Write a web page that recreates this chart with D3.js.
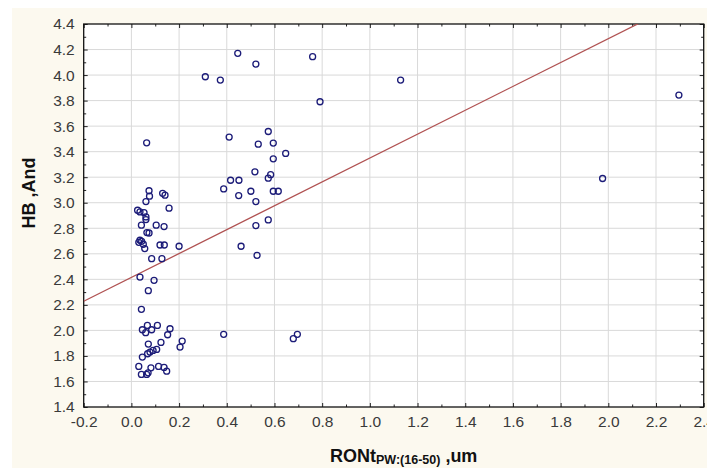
<!DOCTYPE html>
<html>
<head>
<meta charset="utf-8">
<script src="https://cdn.jsdelivr.net/npm/d3@7"></script>
<style>
  body { margin: 0; background: #fff; }
  svg { display: block; }
</style>
</head>
<body>
<script>
// RONt (x) and HB,And (y)
var xVals = [0.064, 0.074, 0.076, 0.061, 0.131, 0.141, 0.158, 0.026, 0.036, 0.053,
             0.061, 0.061, 0.042, 0.104, 0.137, 0.065, 0.074, 0.036, 0.043, 0.031,
             0.050, 0.056, 0.120, 0.138, 0.200, 0.085, 0.128, 0.036, 0.095, 0.071,
             0.042, 0.046, 0.067, 0.060, 0.085, 0.109, 0.162, 0.152, 0.071, 0.124,
             0.106, 0.078, 0.068, 0.046, 0.213, 0.204, 0.031, 0.082, 0.114, 0.137,
             0.148, 0.042, 0.064, 0.070, 0.091,
             0.310, 0.373, 0.446, 0.522, 0.410, 0.574, 0.532, 0.595, 0.647, 0.595,
             0.518, 0.584, 0.574, 0.416, 0.451, 0.387, 0.450, 0.501, 0.522, 0.595,
             0.616, 0.574, 0.522, 0.460, 0.527, 0.387, 0.679, 0.696, 0.760, 0.791,
             1.129, 1.976, 2.296]
var yVals = [3.469, 3.094, 3.051, 3.009, 3.074, 3.059, 2.957, 2.941, 2.928, 2.923,
             2.889, 2.868, 2.824, 2.824, 2.813, 2.766, 2.763, 2.706, 2.698, 2.690,
             2.675, 2.641, 2.669, 2.669, 2.659, 2.562, 2.562, 2.418, 2.392, 2.311,
             2.165, 2.005, 2.039, 1.982, 2.005, 2.039, 2.013, 1.966, 1.893, 1.906,
             1.851, 1.830, 1.817, 1.791, 1.916, 1.869, 1.718, 1.707, 1.718, 1.710,
             1.681, 1.655, 1.655, 1.668, 1.843,
             3.987, 3.961, 4.170, 4.086, 3.514, 3.558, 3.459, 3.467, 3.386, 3.344,
             3.242, 3.220, 3.192, 3.176, 3.176, 3.108, 3.056, 3.090, 3.009, 3.090,
             3.090, 2.865, 2.821, 2.659, 2.588, 1.969, 1.935, 1.969, 4.144, 3.791,
             3.961, 3.190, 3.843]

var xTicks = [-0.2, 0.0, 0.2, 0.4, 0.6, 0.8, 1.0, 1.2, 1.4, 1.6, 1.8, 2.0, 2.2, 2.4]
var yTicks = [1.4, 1.6, 1.8, 2.0, 2.2, 2.4, 2.6, 2.8, 3.0, 3.2, 3.4, 3.6, 3.8, 4.0, 4.2, 4.4]

// linear fit
var fitIntercept = 2.415
var fitSlope = 0.935

var W = 707, H = 468
var pLeft = 83.7, pRight = 703.7, pTop = 24, pBottom = 407

var svg = d3.select("body").append("svg")
    .attr("width", W)
    .attr("height", H)

svg.append("rect")
    .attr("x", 12).attr("y", 8)
    .attr("width", W - 12).attr("height", H - 8)
    .attr("fill", "#fcf9ef")

svg.append("rect")
    .attr("x", pLeft).attr("y", pTop)
    .attr("width", pRight - pLeft).attr("height", pBottom - pTop)
    .attr("fill", "#fff")

var x = d3.scaleLinear().domain([-0.2, 2.4]).range([pLeft, pRight])
var y = d3.scaleLinear().domain([1.4, 4.4]).range([pBottom, pTop])

var fmt = function(d) { return d3.format(".1f")(d).replace("\u2212", "-") }

// grid
svg.append("g").selectAll("line")
    .data(xTicks.slice(1, -1))
    .enter().append("line")
    .attr("x1", function(d) { return x(d) }).attr("x2", function(d) { return x(d) })
    .attr("y1", pTop).attr("y2", pBottom)
    .attr("stroke", "#d9d9d9")
svg.append("g").selectAll("line")
    .data(yTicks.slice(1, -1))
    .enter().append("line")
    .attr("y1", function(d) { return y(d) }).attr("y2", function(d) { return y(d) })
    .attr("x1", pLeft).attr("x2", pRight)
    .attr("stroke", "#d9d9d9")

// inward ticks on all sides
var minorX = xTicks.slice(0, -1).map(function(d) { return d + 0.1 })
var minorY = yTicks.slice(0, -1).map(function(d) { return d + 0.1 })

function tickAxis(axis, pos, ticks, size) {
    svg.append("g")
        .attr("transform", pos)
        .call(axis.tickValues(ticks).tickSize(size).tickFormat(""))
        .call(function(g) { g.select(".domain").remove() })
        .selectAll("line").attr("stroke", "#222")
}
tickAxis(d3.axisTop(x), "translate(0," + pBottom + ")", xTicks, 4)
tickAxis(d3.axisTop(x), "translate(0," + pBottom + ")", minorX, 2.5)
tickAxis(d3.axisBottom(x), "translate(0," + pTop + ")", xTicks, 4)
tickAxis(d3.axisBottom(x), "translate(0," + pTop + ")", minorX, 2.5)
tickAxis(d3.axisRight(y), "translate(" + pLeft + ",0)", yTicks, 4)
tickAxis(d3.axisRight(y), "translate(" + pLeft + ",0)", minorY, 2.5)
tickAxis(d3.axisLeft(y), "translate(" + pRight + ",0)", yTicks, 4)
tickAxis(d3.axisLeft(y), "translate(" + pRight + ",0)", minorY, 2.5)

// tick labels
svg.append("g")
    .attr("transform", "translate(0," + pBottom + ")")
    .call(d3.axisBottom(x).tickValues(xTicks).tickSize(0).tickPadding(9).tickFormat(fmt))
    .call(function(g) { g.select(".domain").remove() })
    .selectAll("text")
    .attr("font-family", "'Liberation Sans', Arial, sans-serif")
    .attr("font-size", 15.5)
    .attr("fill", "#3a3a3a")

svg.append("g")
    .attr("transform", "translate(" + pLeft + ",0)")
    .call(d3.axisLeft(y).tickValues(yTicks).tickSize(0).tickPadding(9).tickFormat(fmt))
    .call(function(g) { g.select(".domain").remove() })
    .selectAll("text")
    .attr("font-family", "'Liberation Sans', Arial, sans-serif")
    .attr("font-size", 15.5)
    .attr("fill", "#3a3a3a")

// frame
svg.append("rect")
    .attr("x", pLeft).attr("y", pTop)
    .attr("width", pRight - pLeft).attr("height", pBottom - pTop)
    .attr("fill", "none")
    .attr("stroke", "#111")
    .attr("stroke-width", 1.3)

// fit line, clipped to plot
svg.append("clipPath").attr("id", "plotclip")
    .append("rect")
    .attr("x", pLeft).attr("y", pTop)
    .attr("width", pRight - pLeft).attr("height", pBottom - pTop)

var fitXs = [-0.2, 2.4]
svg.append("path")
    .datum(fitXs)
    .attr("clip-path", "url(#plotclip)")
    .attr("d", d3.line()
        .x(function(d) { return x(d) })
        .y(function(d) { return y(fitIntercept + fitSlope * d) }))
    .attr("fill", "none")
    .attr("stroke", "#b05252")
    .attr("stroke-width", 1.3)

// points
svg.append("g").selectAll("circle")
    .data(xVals)
    .enter().append("circle")
    .attr("cx", function(d) { return x(d) })
    .attr("cy", function(d, i) { return y(yVals[i]) })
    .attr("r", 3)
    .attr("fill", "none")
    .attr("stroke", "#1b1b78")
    .attr("stroke-width", 1.3)

// axis titles
svg.append("text")
    .attr("transform", "translate(35,193) rotate(-90)")
    .attr("text-anchor", "middle")
    .attr("font-family", "'Liberation Sans', Arial, sans-serif")
    .attr("font-size", 18)
    .attr("font-weight", "bold")
    .attr("fill", "#111")
    .text("HB ,And")

var xt = svg.append("text")
    .attr("x", 330).attr("y", 462)
    .attr("font-family", "'Liberation Sans', Arial, sans-serif")
    .attr("font-weight", "bold")
    .attr("fill", "#111")
xt.append("tspan").attr("font-size", 18).text("RONt")
xt.append("tspan").attr("font-size", 12.5).attr("dy", 2).text("PW:(16-50)")
xt.append("tspan").attr("font-size", 18).attr("dy", -2).text(" ,um")
</script>
</body>
</html>
